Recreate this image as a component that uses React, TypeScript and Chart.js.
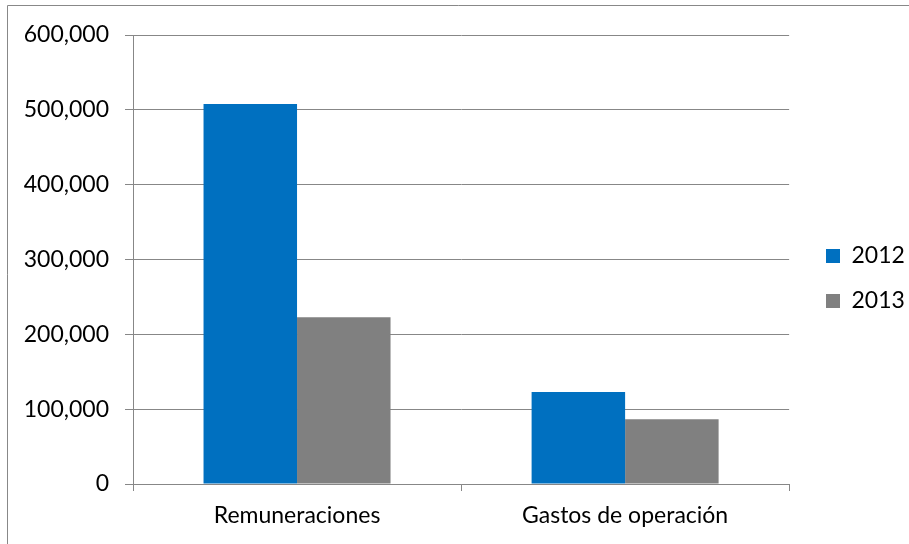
import React, { useEffect, useRef } from "react";
import { Chart, registerables } from "chart.js";

Chart.register(...registerables);

const categories = ["Remuneraciones", "Gastos de operación"];
const seriesNames = ["2012", "2013"];
const values2012 = [507800, 123000];
const values2013 = [222800, 86400];
const seriesColors = ["#0070C0", "#808080"];
const yMin = 0;
const yMax = 600000;
const yStep = 100000;

const FONT = "Lato, 'Open Sans', sans-serif";

const framePlugin = {
  id: "frame",
  beforeDraw(chart: any) {
    const ctx = chart.ctx;
    ctx.save();
    ctx.strokeStyle = "#888888";
    ctx.lineWidth = 1;
    ctx.beginPath();
    ctx.moveTo(7.5, chart.height);
    ctx.lineTo(7.5, 5.5);
    ctx.lineTo(chart.width, 5.5);
    ctx.stroke();
    ctx.restore();
  },
};

const legendPlacePlugin = {
  id: "legendPlace",
  afterLayout(chart: any) {
    const lg = chart.legend;
    if (!lg) return;
    const pad = lg.options.labels.padding;
    const dx = 826 - pad - lg.left;
    lg.left += dx;
    lg.right += dx;
    const dy = -11;
    lg.top += dy;
    lg.bottom += dy;
  },
};

export default function App() {
  const ref = useRef<HTMLCanvasElement | null>(null);
  useEffect(() => {
    if (!ref.current) return;
    const chart = new Chart(ref.current, {
      type: "bar",
      data: {
        labels: categories,
        datasets: [
          { label: seriesNames[0], data: values2012, backgroundColor: seriesColors[0] },
          { label: seriesNames[1], data: values2013, backgroundColor: seriesColors[1] },
        ],
      },
      plugins: [framePlugin, legendPlacePlugin],
      options: {
        responsive: false,
        animation: false,
        devicePixelRatio: 1,
        layout: { padding: { top: 35, left: 0, right: 9, bottom: 0 } },
        datasets: {
          bar: { barPercentage: 1, categoryPercentage: 0.57 },
        } as any,
        plugins: {
          tooltip: { enabled: false },
          legend: {
            position: "right",
            align: "center",
            labels: {
              boxWidth: 14,
              boxHeight: 14,
              padding: 22,
              color: "#000000",
              font: { family: FONT, size: 23 },
            },
          },
        },
        scales: {
          x: {
            offset: true,
            afterFit: (s: any) => {
              s.height = 60;
            },
            grid: {
              offset: true,
              drawOnChartArea: false,
              drawTicks: true,
              tickLength: 7,
              color: "#878787",
            },
            border: { display: true, color: "#878787", width: 1 },
            ticks: {
              padding: 11,
              color: "#000000",
              font: { family: FONT, size: 23 },
              maxRotation: 0,
            },
          },
          y: {
            min: yMin,
            max: yMax,
            afterFit: (s: any) => {
              s.width = 133;
            },
            grid: {
              color: "#878787",
              drawTicks: true,
              tickLength: 8,
            },
            border: { display: true, color: "#878787", width: 1 },
            ticks: {
              stepSize: yStep,
              padding: 16,
              color: "#000000",
              font: { family: FONT, size: 23 },
              callback: (v: any) => Number(v).toLocaleString("en-US"),
            },
          },
        },
      },
    });
    return () => chart.destroy();
  }, []);
  return (
    <div style={{ position: "fixed", left: 0, top: 0, width: 909, height: 544, background: "#fff" }}>
      <canvas ref={ref} width={909} height={544} style={{ display: "block" }} />
    </div>
  );
}
